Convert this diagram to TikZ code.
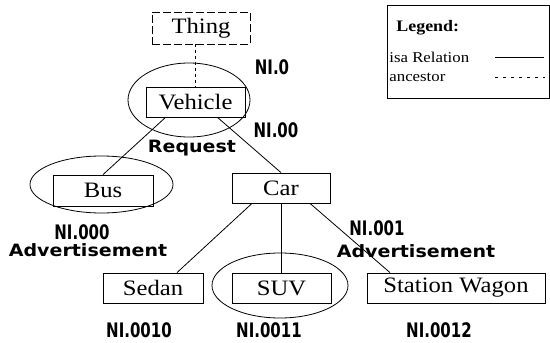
\documentclass[tikz,border=0pt]{standalone}
\usepackage{fontspec}
\setmainfont{Liberation Serif}[FakeStretch=1.12]
\newfontfamily\tagfont{DejaVu Sans}[FakeStretch=1.12]
\newfontfamily\numfont{DejaVu Sans}[FakeStretch=0.75]
\usetikzlibrary{shapes.geometric}

\begin{document}
\begin{tikzpicture}[
        x=1pt, y=-1pt,
        line width=0.8pt,
        every node/.style={inner sep=0pt},
        concept/.style={draw, rectangle, minimum height=30pt, font=\fontsize{22}{24}\selectfont},
        oval/.style={draw, ellipse},
        numlabel/.style={font=\numfont\bfseries\fontsize{20}{22}\selectfont},
        msglabel/.style={font=\tagfont\bfseries\fontsize{17}{19}\selectfont},
        legendtext/.style={anchor=west, font=\fontsize{15}{17}\selectfont},
        ancestor/.style={dash pattern=on 3pt off 3pt}
    ]
 \useasboundingbox (0,0) rectangle (550,343);

 \node[oval, minimum width=122pt, minimum height=74pt] (vehicleoval) at (189,100) {};
 \node[oval, minimum width=143pt, minimum height=57pt] (busoval) at (101.5,184.5) {};
 \node[oval, minimum width=136pt, minimum height=65pt] (suvoval) at (280,285.5) {};

 \node[concept, dash pattern=on 8pt off 3pt, minimum width=98pt, minimum height=32pt] (thing) at (201,28) {Thing};
 \node[concept, minimum width=99pt] (vehicle) at (195.5,102) {Vehicle};
 \node[concept, minimum width=100pt, minimum height=31pt] (bus) at (103,190.5) {Bus};
 \node[concept, minimum width=98pt] (car) at (281,188) {Car};
 \node[concept, minimum width=100pt] (sedan) at (153,288) {Sedan};
 \node[concept, minimum width=99pt] (suv) at (281.5,288) {SUV};
 \node[concept, minimum width=178pt] (wagon) at (456,288) {Station Wagon};

 \draw[ancestor] (thing.south -| vehicle.north) -- (vehicle.north);
 \draw ([xshift=-30pt]vehicle.south) -- (bus.north);
 \draw ([xshift=22pt]vehicle.south) -- (car.north);
 \draw ([xshift=-29pt]car.south) -- ([xshift=24pt]sedan.north);
 \draw (car.south) -- (car.south |- suv.north);
 \draw ([xshift=29pt]car.south) -- ([xshift=-66pt]wagon.north);

 \node[numlabel] (ni0) at (272,67) {NI.0};
 \node[numlabel] (ni00) at (276,130) {NI.00};
 \node[msglabel] (request) at (192,148) {Request};
 \node[numlabel] (ni000) at (82,232) {NI.000};
 \node[msglabel] (busmsg) at (88,250) {Advertisement};
 \node[numlabel] (ni001) at (377,228) {NI.001};
 \node[msglabel] (carmsg) at (416,251) {Advertisement};
 \node[numlabel] (ni0010) at (139,330) {NI.0010};
 \node[numlabel] (ni0011) at (269,330) {NI.0011};
 \node[numlabel] (ni0012) at (439,330) {NI.0012};

 \node[draw, minimum width=162pt, minimum height=93pt] (legend) at (468,51.5) {};
 \node[anchor=west, font=\bfseries\fontsize{16}{18}\selectfont] (legendtitle) at (396,28) {Legend:};
 \node[legendtext] (isatext) at (389,57) {isa Relation};
 \node[legendtext] (ancestortext) at (389,77) {ancestor};
 \coordinate (isastart) at (495,57);
 \coordinate (isaend) at (544,57);
 \coordinate (ancstart) at (495,77);
 \coordinate (ancend) at (545,77);
 \draw (isastart) -- (isaend);
 \draw[dash pattern=on 3pt off 5pt] (ancstart) -- (ancend);
\end{tikzpicture}
\end{document}
